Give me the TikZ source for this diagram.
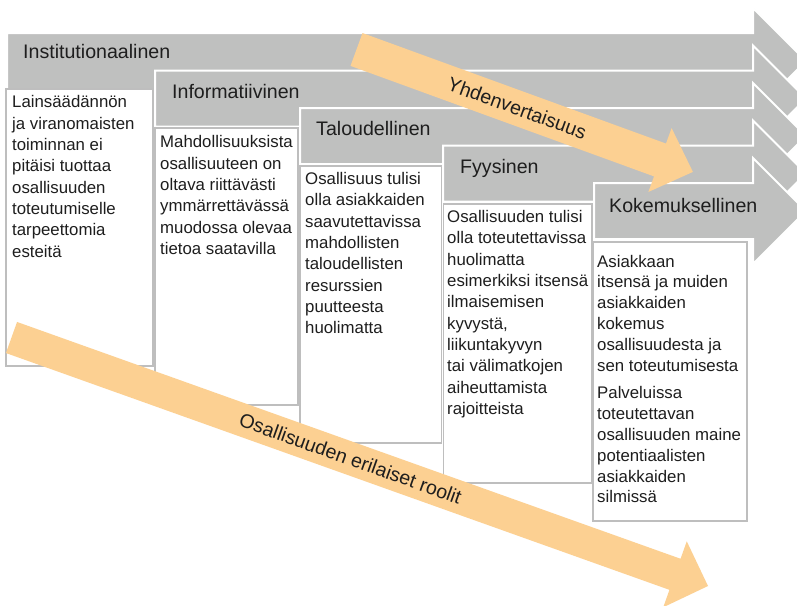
\documentclass[tikz,border=0pt]{standalone}
\usepackage{fontspec}
\setmainfont{Liberation Sans}
\definecolor{arrowgray}{RGB}{191,192,191}
\definecolor{boxline}{RGB}{190,190,190}
\definecolor{peach}{RGB}{252,208,146}
\definecolor{ink}{RGB}{30,30,30}
\begin{document}
\begin{tikzpicture}[x=1pt,y=-1pt,
  grayarrow/.style={fill=arrowgray, draw=white, line width=2pt, line join=miter},
  textbox/.style={fill=white, draw=boxline, line width=1.6pt},
  headtext/.style={anchor=base west, inner sep=0pt, text=ink, font=\fontsize{19.6}{23}\selectfont},
  bodytext/.style={anchor=north west, inner sep=0pt, text=ink, align=left, font=\fontsize{16.8}{21.3}\selectfont},
  peacharrow/.style={fill=peach, draw=none},
  rottext/.style={inner sep=0pt, text=ink, font=\fontsize{19.6}{23}\selectfont}]
\useasboundingbox (0,0) rectangle (797,605);
\clip (0,0) rectangle (797,605);
\fill[white] (0,0) rectangle (797,605);

% 1 Institutionaalinen
\draw[grayarrow] (7,33) -- (753,33) -- (753,8) -- (806,61) -- (753,114) -- (753,89) -- (7,89) -- cycle;
\node[headtext] (h1) at (23,58) {Institutionaalinen};
\draw[textbox] (6,89) rectangle (153,366);
\node[bodytext] (t1) at (12,95.6) {Lainsäädännön\\ja viranomaisten\\toiminnan ei\\pitäisi tuottaa\\osallisuuden\\toteutumiselle\\tarpeettomia\\esteitä};

% 2 Informatiivinen
\draw[grayarrow] (155,70.5) -- (753,70.5) -- (753,45.5) -- (806,98.5) -- (753,151.5) -- (753,126.5) -- (155,126.5) -- cycle;
\node[headtext] (h2) at (172,98) {Informatiivinen};
\draw[textbox] (155,128) rectangle (298,405);
\node[bodytext] (t2) at (160,135.6) {Mahdollisuuksista\\osallisuuteen on\\oltava riittävästi\\ymmärrettävässä\\muodossa olevaa\\tietoa saatavilla};

% 3 Taloudellinen
\draw[grayarrow] (300,108) -- (753,108) -- (753,83) -- (806,136) -- (753,189) -- (753,164) -- (300,164) -- cycle;
\node[headtext] (h3) at (316,135) {Taloudellinen};
\draw[textbox] (300,166) rectangle (441.5,443);
\node[bodytext] (t3) at (305,172.3) {Osallisuus tulisi\\olla asiakkaiden\\saavutettavissa\\mahdollisten\\taloudellisten\\resurssien\\puutteesta\\huolimatta};

% 4 Fyysinen
\draw[grayarrow] (443,145.5) -- (753,145.5) -- (753,120.5) -- (806,173.5) -- (753,226.5) -- (753,201.5) -- (443,201.5) -- cycle;
\node[headtext] (h4) at (460,173) {Fyysinen};
\draw[textbox] (443.5,204) rectangle (592,483);
\node[bodytext] (t4) at (447,210.3) {Osallisuuden tulisi\\olla toteutettavissa\\huolimatta\\esimerkiksi itsensä\\ilmaisemisen\\kyvystä,\\liikuntakyvyn\\tai välimatkojen\\aiheuttamista\\rajoitteista};

% 5 Kokemuksellinen
\draw[grayarrow] (594,183) -- (753,183) -- (753,158) -- (806,211) -- (753,264) -- (753,239) -- (594,239) -- cycle;
\node[headtext] (h5) at (609,212) {Kokemuksellinen};
\draw[textbox] (593,242) rectangle (747,521);
\node[bodytext, font=\fontsize{16.8}{20.8}\selectfont] (t5) at (597,254.7) {Asiakkaan\\itsensä ja muiden\\asiakkaiden\\kokemus\\osallisuudesta ja\\sen toteutumisesta\\[7pt]Palveluissa\\toteutettavan\\osallisuuden maine\\potentiaalisten\\asiakkaiden\\silmissä};

% peach arrows
\fill[peacharrow] (362.5,33.05) -- (666.0,143.55) -- (671.6,128.05) -- (692.9,171.9) -- (648.4,191.95) -- (654.0,176.4) -- (350.5,65.9) -- cycle;
\node[rottext, rotate=-20] (yv) at (517.2,108) {Yhdenvertaisuus};

\fill[peacharrow] (17.05,321.96) -- (680.55,558.76) -- (686.76,541.34) -- (708,586) -- (663.24,607.26) -- (669.45,589.84) -- (5.95,353.04) -- cycle;
\node[rottext, rotate=-19.64] (rr) at (350.5,458.5) {Osallisuuden erilaiset roolit};
\end{tikzpicture}
\end{document}
